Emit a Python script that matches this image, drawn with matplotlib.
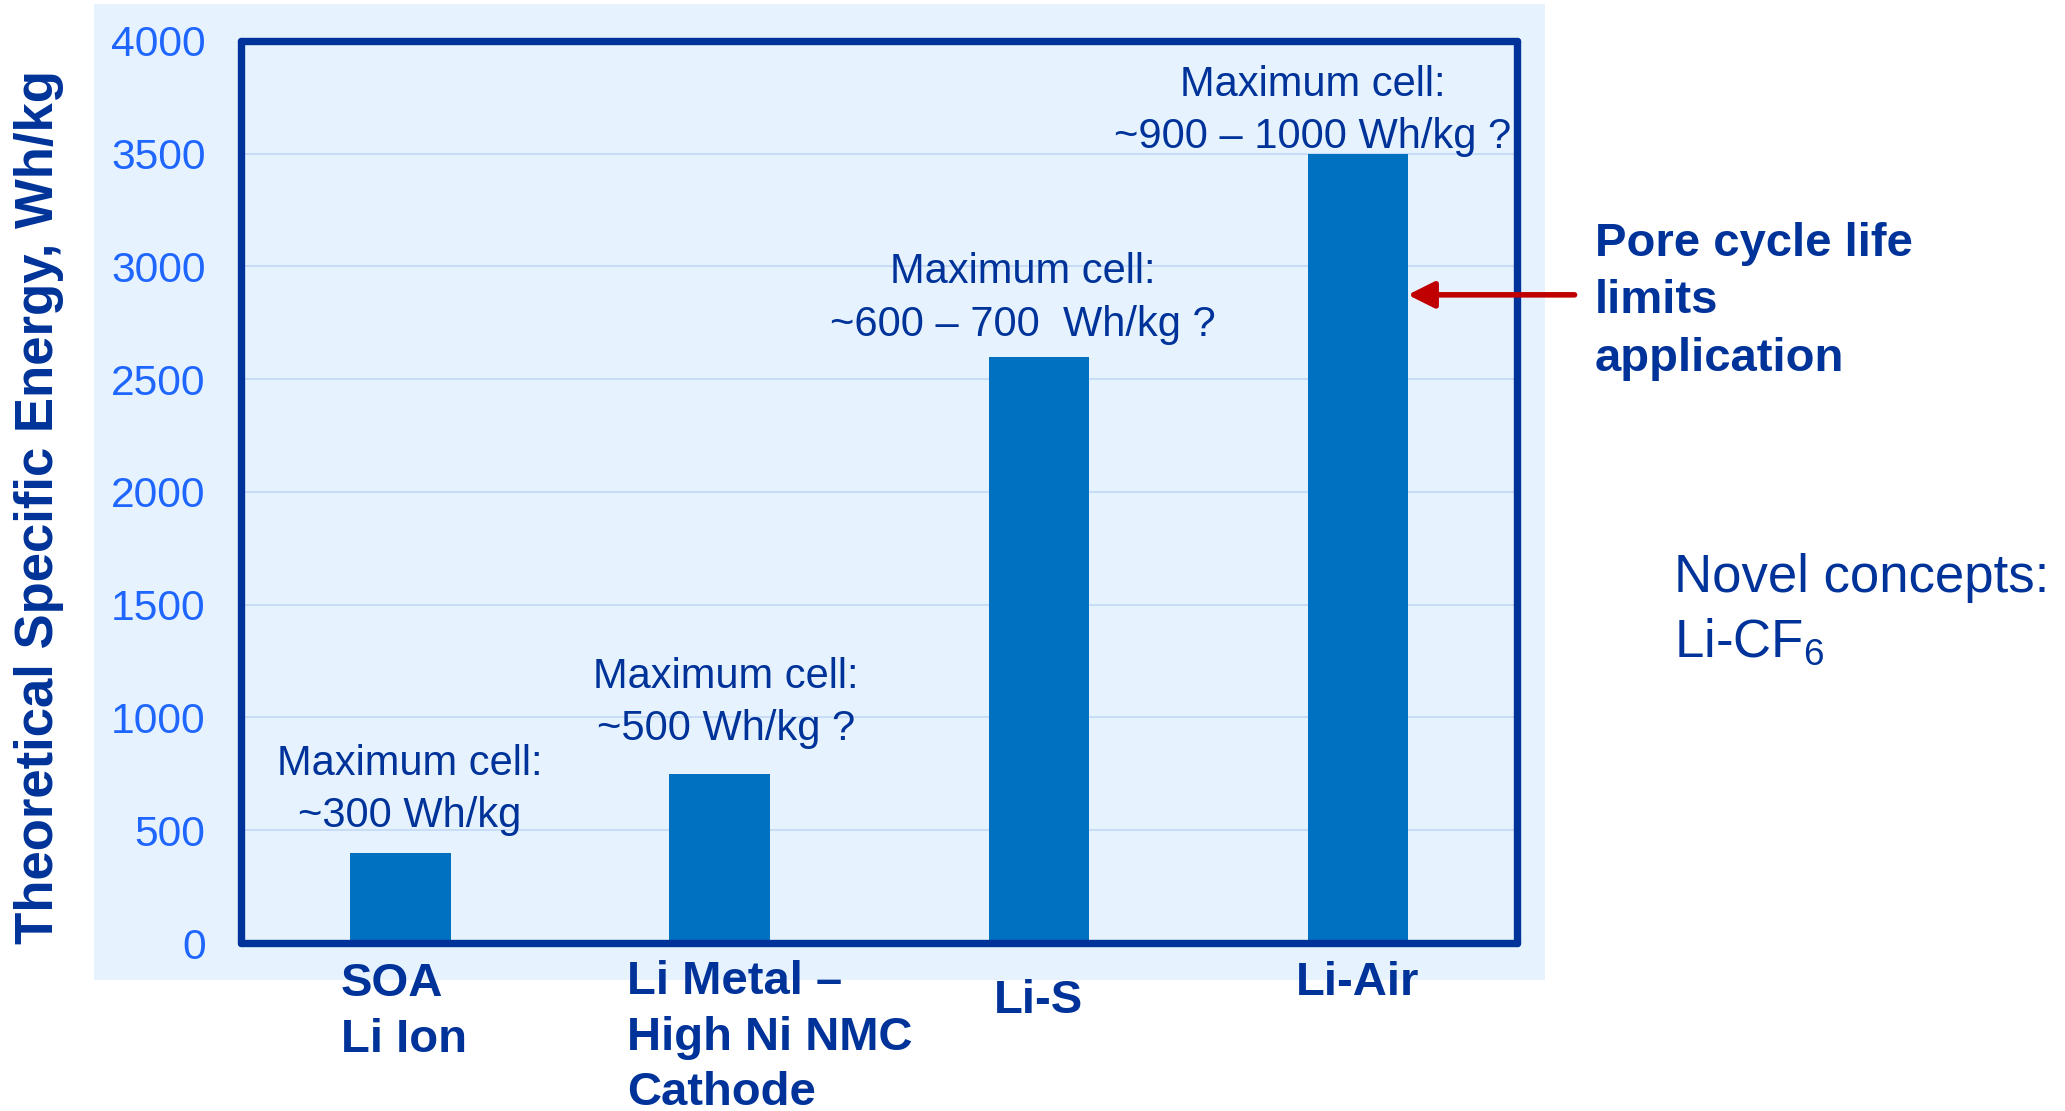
import matplotlib
matplotlib.use("Agg")
import matplotlib.pyplot as plt
from matplotlib.patches import Rectangle

# data
categories = ["SOA\nLi Ion", "Li Metal \u2013\nHigh Ni NMC\nCathode", "Li-S", "Li-Air"]
energy = [400, 750, 2600, 3500]
cell_notes = [
    "Maximum cell:\n~300 Wh/kg",
    "Maximum cell:\n~500 Wh/kg ?",
    "Maximum cell:\n~600 \u2013 700  Wh/kg ?",
    "Maximum cell:\n~900 \u2013 1000 Wh/kg ?",
]
yticks = [0, 500, 1000, 1500, 2000, 2500, 3000, 3500, 4000]
ylabel = "Theoretical Specific Energy, Wh/kg"
side_note = "Pore cycle life\nlimits\napplication"
novel_note = "Novel concepts:\nLi-CF$_\\mathregular{6}$"

# layout (baseline of the last line of each text)
note_x = [0.03, 1.02, 1.95, 2.86]
note_y = [514, 900, 2692, 3525]
cat_x = [-0.187, 0.71, 2.0, 3.0]
cat_ha = ["left", "left", "center", "center"]
cat_y = [-0.1208, -0.1800, -0.0776, -0.0576]
arrow_y = 2874

navy = "#003399"
bar_col = "#0070C0"
tick_col = "#1F66FF"
panel_col = "#E6F3FF"
grid_col = "#C8DCF6"

plt.rcParams["font.family"] = ["Liberation Sans", "DejaVu Sans"]
plt.rcParams["mathtext.fontset"] = "custom"
plt.rcParams["mathtext.rm"] = "Liberation Sans"

fig = plt.figure(figsize=(20.65, 11.11), dpi=100)
panel = Rectangle((0.0453, 0.118), 0.7027, 0.8784, transform=fig.transFigure,
                  facecolor=panel_col, edgecolor="none", zorder=-5)
fig.patches.append(panel)

ax = fig.add_axes([0.1167, 0.1512, 0.618, 0.812])
ax.set_facecolor("none")

bar_w = 0.314
x = list(range(len(categories)))
ax.bar(x, energy, width=bar_w, color=bar_col, zorder=2)

ax.set_xlim(-0.5, 3.5)
ax.set_ylim(0, 4000)
ax.set_yticks(yticks)
ax.set_yticklabels([str(v) for v in yticks], fontsize=30.7, color=tick_col)
ax.set_xticks([])
ax.tick_params(axis="y", length=0, pad=25.5)
ax.yaxis.grid(True, color=grid_col, lw=1.5)
ax.set_axisbelow(True)
for s in ax.spines.values():
    s.set_color(navy)
    s.set_linewidth(5.3)
    s.set_capstyle("round")
    s.set_zorder(3)

for i, note in enumerate(cell_notes):
    ax.text(note_x[i], note_y[i], note, ha="center", va="baseline", fontsize=30,
            color=navy, linespacing=1.4, zorder=4, clip_on=False)

for i, cat in enumerate(categories):
    ax.text(cat_x[i], cat_y[i], cat, transform=ax.get_xaxis_transform(), ha=cat_ha[i],
            va="baseline", fontsize=34, fontweight="bold", color=navy,
            linespacing=1.34, multialignment="left")

ax.annotate("", xy=(3 + bar_w / 2, arrow_y), xytext=(3.68, arrow_y),
            arrowprops=dict(arrowstyle="-|>", color="#C00000", lw=4, mutation_scale=40,
                            shrinkA=0, shrinkB=0),
            annotation_clip=False, zorder=5)

fig.text(0.019, 0.544, ylabel, rotation=90, ha="center", va="center", fontsize=38,
         fontweight="bold", color=navy)
fig.text(0.7724, 0.666, side_note, ha="left", va="baseline", fontsize=34,
         fontweight="bold", color=navy, linespacing=1.4)
fig.text(0.8107, 1 - 657 / 1111, novel_note, ha="left", va="baseline", fontsize=38,
         color=navy, linespacing=1.34)

fig.savefig("out.png", dpi=100)
